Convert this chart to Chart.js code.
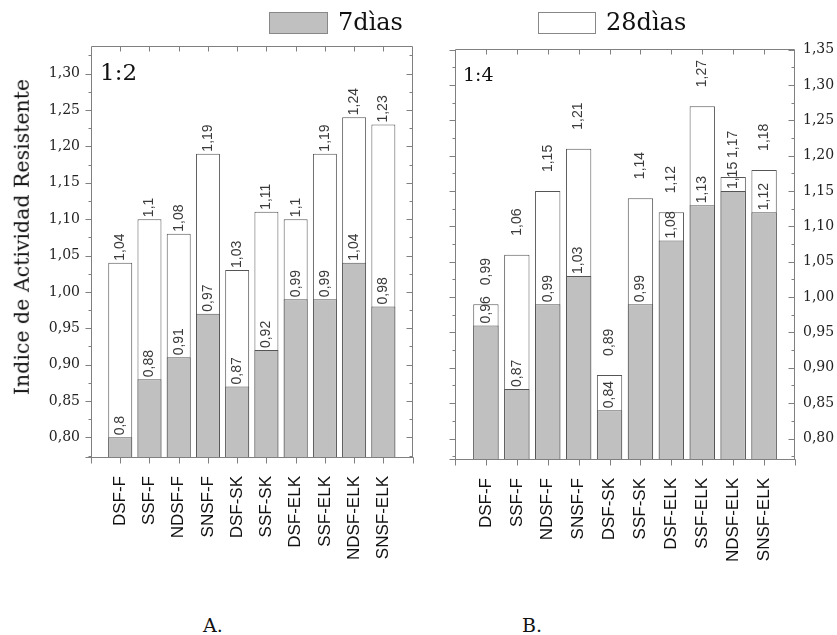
<!DOCTYPE html>
<html><head><meta charset="utf-8">
<script src="https://cdn.jsdelivr.net/npm/chart.js@4.4.0/dist/chart.umd.min.js"></script>
<style>
body{margin:0;background:#fff;width:837px;height:635px;position:relative;overflow:hidden;font-family:'DejaVu Serif',serif;}
canvas{position:absolute;top:0;}
#cA{left:0;}
#cB{left:444px;}
.t{position:absolute;white-space:nowrap;color:#111;line-height:1;}
.box{position:absolute;}
</style></head><body>
<canvas id="cA" width="444" height="600"></canvas>
<canvas id="cB" width="393" height="600"></canvas>
<div class="box" style="left:269px;top:12px;width:57px;height:20px;background:#c0c0c0;border:1px solid #888;"></div>
<div class="t" style="left:338px;top:10px;font-size:24px;">7dìas</div>
<div class="box" style="left:538px;top:12px;width:56px;height:20px;background:#fff;border:1px solid #888;"></div>
<div class="t" style="left:606px;top:10px;font-size:24px;">28dìas</div>
<div class="t" style="left:100px;top:61px;font-size:23px;">1:2</div>
<div class="t" style="left:463px;top:65px;font-size:19px;">1:4</div>
<div class="t" style="left:22px;top:237px;font-size:20.5px;transform:translate(-50%,-50%) rotate(-90deg);">Indice de Actividad Resistente</div>
<div class="t" style="left:203px;top:616px;font-size:19px;">A.</div>
<div class="t" style="left:522px;top:616px;font-size:19px;">B.</div>
<script>
const categories = ['DSF-F','SSF-F','NDSF-F','SNSF-F','DSF-SK','SSF-SK','DSF-ELK','SSF-ELK','NDSF-ELK','SNSF-ELK'];
const a7  = [0.80, 0.88, 0.91, 0.97, 0.87, 0.92, 0.99, 0.99, 1.04, 0.98];
const a28 = [1.04, 1.10, 1.08, 1.19, 1.03, 1.11, 1.10, 1.19, 1.24, 1.23];
const b7  = [0.96, 0.87, 0.99, 1.03, 0.84, 0.99, 1.08, 1.13, 1.15, 1.12];
const b28 = [0.99, 1.06, 1.15, 1.21, 0.89, 1.14, 1.12, 1.27, 1.17, 1.18];
const yTicksA = [0.80,0.85,0.90,0.95,1.00,1.05,1.10,1.15,1.20,1.25,1.30];
const yTicksB = [0.80,0.85,0.90,0.95,1.00,1.05,1.10,1.15,1.20,1.25,1.30,1.35];

const FRAME = '#808080';
const fmtTick = v => v.toFixed(2).replace('.', ',');
const fmtVal = v => String(v).replace('.', ',');
const pad = arr => [null, ...arr, null];

const framePlugin = {
  id: 'frame',
  afterDraw(chart, args, o) {
    const ctx = chart.ctx, a = chart.chartArea, x = chart.scales.x, y = chart.scales.y;
    const L = Math.round(a.left) + 0.5, R = Math.round(a.right) - 0.5;
    const T = Math.round(a.top) + 0.5, B = Math.round(a.bottom) + 0.5;
    ctx.save();
    ctx.strokeStyle = FRAME; ctx.lineWidth = 1;
    ctx.beginPath();
    ctx.moveTo(L, T); ctx.lineTo(R, T); ctx.lineTo(R, B); ctx.moveTo(L, T); ctx.lineTo(L, B);
    ctx.moveTo(L - 6, B); ctx.lineTo(R + 1, B);
    for (let i = 0; i < x.ticks.length; i++) {
      const px = Math.round(x.getPixelForTick(i)) + 0.5;
      ctx.moveTo(px, B); ctx.lineTo(px, B + 6);
      if (i > 0 && i < x.ticks.length - 1) { ctx.moveTo(px, T); ctx.lineTo(px, T + 5); }
    }
    const majors = o.ticks;
    const step = (majors[1] - majors[0]) / 2;
    const all = [];
    majors.forEach(v => all.push([v, true]));
    for (let i = 0; i < majors.length - 1; i++) all.push([(majors[i] + majors[i + 1]) / 2, false]);
    all.push([majors[0] - step, false]);
    all.push([majors[majors.length - 1] + step, false]);
    all.forEach(([v, maj]) => {
      if (v < y.min || v > y.max) return;
      const py = Math.round(y.getPixelForValue(v)) + 0.5;
      const len = maj ? 6 : 3;
      ctx.moveTo(L, py); ctx.lineTo(L - len, py);
      ctx.moveTo(R, py); ctx.lineTo(R - len, py);
    });
    ctx.stroke();
    ctx.restore();
  }
};

const valuePlugin = {
  id: 'vals',
  afterDatasetsDraw(chart, args, o) {
    const ctx = chart.ctx;
    chart.data.datasets.forEach((ds, di) => {
      const meta = chart.getDatasetMeta(di);
      const off = o.offsets[di];
      meta.data.forEach((bar, i) => {
        const v = ds.data[i];
        if (v == null) return;
        ctx.save();
        ctx.translate(bar.x, bar.y - off);
        ctx.rotate(-Math.PI / 2);
        ctx.font = '14px "Liberation Sans", Arial, sans-serif';
        ctx.fillStyle = '#3a3a3a';
        ctx.textAlign = 'left';
        ctx.textBaseline = 'middle';
        ctx.fillText(fmtVal(v), 0, 0);
        ctx.restore();
      });
    });
  }
};

function makeChart(id, d7, d28, yTicks, ymin, ymax, side, padding, yWidth, xHeight, offsets) {
  return new Chart(document.getElementById(id), {
    type: 'bar',
    data: {
      labels: ['', ...categories, ''],
      datasets: [
        { label: '7dìas', data: pad(d7), backgroundColor: '#c0c0c0', borderColor: '#555', borderWidth: 1 },
        { label: '28dìas', data: pad(d28), backgroundColor: '#ffffff', borderColor: '#555', borderWidth: 1 }
      ]
    },
    options: {
      responsive: false,
      animation: false,
      devicePixelRatio: 1,
      grouped: false,
      barPercentage: 0.82,
      categoryPercentage: 1,
      layout: { padding },
      plugins: {
        legend: { display: false },
        tooltip: { enabled: false },
        frame: { ticks: yTicks, side },
        vals: { offsets }
      },
      scales: {
        x: {
          type: 'category',
          offset: false,
          grid: { display: false },
          border: { display: false },
          ticks: {
            autoSkip: false, minRotation: 90, maxRotation: 90, padding: 11,
            color: '#111', font: { family: '"Liberation Sans", Arial, sans-serif', size: 17 }
          },
          afterFit(s) { s.height = xHeight; }
        },
        y: {
          type: 'linear',
          position: side,
          min: ymin, max: ymax,
          grid: { display: false },
          border: { display: false },
          afterBuildTicks(s) { s.ticks = yTicks.map(v => ({ value: v })); },
          ticks: {
            padding: side === 'left' ? 3 : 0,
            color: '#222',
            font: { family: '"DejaVu Serif", serif', size: 14 },
            callback: v => fmtTick(v)
          },
          afterFit(s) { s.width = yWidth; }
        }
      }
    },
    plugins: [framePlugin, valuePlugin]
  });
}

makeChart('cA', a7, a28, yTicksA, 0.773, 1.338, 'left', { top: 46, right: 8, left: 0, bottom: 0 }, 91, 143, [2, 2]);
makeChart('cB', b7, b28, yTicksB, 0.771, 1.351, 'right', { top: 49, right: 0, left: 7, bottom: 0 }, 42, 141, [2, 19]);
</script>
</body></html>
